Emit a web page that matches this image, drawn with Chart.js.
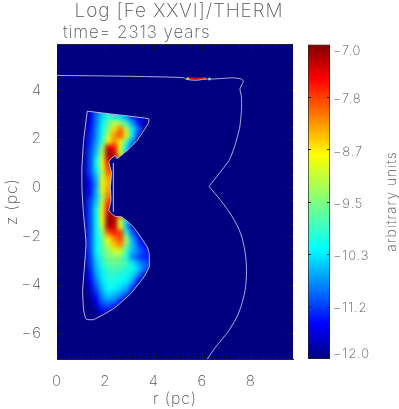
<!DOCTYPE html>
<html><head><meta charset="utf-8">
<script src="https://cdn.jsdelivr.net/npm/chart.js@4"></script>
<style>
html,body{margin:0;padding:0;background:#fff;overflow:hidden}
canvas{position:absolute;top:0;left:0}
</style></head><body>
<div style="position:absolute;left:0;top:0;width:358px;height:409px"><canvas id="main"></canvas></div>
<div style="position:absolute;left:300px;top:0;width:99px;height:409px"><canvas id="bar"></canvas></div>
<script>
const titleText = 'Log [Fe XXVI]/THERM';
const subtitleText = 'time= 2313 years';
const xTitle = 'r (pc)';
const yTitle = 'z (pc)';
const barTitle = 'arbitrary units';
const barLabels = ['−7.0','−7.8','−8.7','−9.5','−10.3','−11.2','−12.0'];
const barLabelAnchors = [-7.107,-7.865,-8.715,-9.53,-10.36,-11.19,-11.92];
const barTickMarks = [-7.833,-8.667,-9.5,-10.333,-11.167];

const rCenters = [1.125,1.375,1.625,1.875,2.125,2.375,2.625,2.875,3.125,3.375,3.625,3.875];
const zCenters = [3.125,2.875,2.625,2.375,2.125,1.875,1.625,1.375,1.125,0.875,0.625,0.375,0.125,-0.125,-0.375,-0.625,-0.875,-1.125,-1.375,-1.625,-1.875,-2.125,-2.375,-2.625,-2.875,-3.125,-3.375,-3.625,-3.875,-4.125,-4.375,-4.625,-4.875,-5.125,-5.375];
const logValues = [
[-12,-11.7,-11,-10.5,-10.2,-10.4,-10.7,-11.1,-11.5,-11.8,-12,-12],
[-12,-11.6,-10.9,-10.4,-9.9,-10,-10.3,-10.7,-11.2,-11.5,-11.8,-12],
[-12,-11.5,-10.9,-10.3,-9.7,-9.1,-9.3,-9.9,-10.7,-11.3,-11.8,-12],
[-12,-11.4,-10.8,-10.2,-9.4,-8.6,-8.1,-9.1,-10.3,-11,-12,-12],
[-12,-11.3,-10.8,-10.1,-9.1,-8.3,-7.9,-8.7,-10.3,-11.3,-12,-12],
[-11.9,-11.3,-10.7,-10,-8.7,-8.2,-8.7,-9.9,-10.8,-12,-12,-12],
[-11.9,-11.2,-10.6,-9.4,-7.4,-7.6,-9,-10.3,-11.3,-12,-12,-12],
[-11.9,-11.1,-10.5,-9.1,-7.1,-7.3,-9,-10.6,-12,-12,-12,-12],
[-11.8,-11.1,-10.3,-8.9,-7.4,-7.4,-8,-12,-12,-12,-12,-12],
[-11.8,-11.1,-10.3,-8.9,-7.8,-7.8,-12,-12,-12,-12,-12,-12],
[-11.8,-11.1,-10.4,-9.2,-8,-8,-12,-12,-12,-12,-12,-12],
[-11.9,-11.3,-10.6,-9,-8.3,-8.3,-12,-12,-12,-12,-12,-12],
[-11.9,-11.4,-10.7,-8.9,-8.4,-8.4,-12,-12,-12,-12,-12,-12],
[-11.9,-11.4,-10.6,-8.9,-8.3,-8.3,-12,-12,-12,-12,-12,-12],
[-11.9,-11.3,-10.6,-9.2,-8.1,-8.1,-12,-12,-12,-12,-12,-12],
[-11.8,-11.1,-10.5,-9.1,-7.8,-7.8,-12,-12,-12,-12,-12,-12],
[-11.8,-11.1,-10.3,-8.7,-7.5,-7.5,-12,-12,-12,-12,-12,-12],
[-11.8,-11.1,-10.3,-8.7,-7.2,-7.3,-8,-12,-12,-12,-12,-12],
[-11.8,-11.1,-10.3,-8.8,-7.05,-7.2,-9,-10.5,-12,-12,-12,-12],
[-11.8,-11.1,-10.3,-9.1,-7.3,-7.3,-8.9,-10.5,-11.6,-12,-12,-12],
[-11.9,-11.1,-10.3,-9.4,-8,-7.7,-7.8,-10,-11,-11.6,-12,-12],
[-11.9,-11.1,-10.3,-9.7,-8.7,-8.2,-7.9,-9.3,-10.6,-11.3,-11.6,-12],
[-11.9,-11.1,-10.3,-9.7,-9.1,-8.5,-8.2,-9.5,-10.5,-11.1,-11.4,-11.7],
[-11.9,-11.1,-10.3,-9.8,-9.4,-9,-9,-9.9,-10.6,-10.9,-11.2,-11.4],
[-11.9,-11.2,-10.4,-9.9,-9.5,-9.4,-9.5,-10,-10.8,-11.1,-11.3,-11.3],
[-12,-11.2,-10.5,-10,-9.7,-9.6,-9.7,-9.9,-10.3,-10.7,-11,-11.1],
[-12,-11.3,-10.6,-10.2,-9.9,-9.8,-9.9,-10,-10.2,-10.5,-11,-11.2],
[-12,-11.4,-10.7,-10.3,-10,-10,-10.1,-10.2,-10.4,-10.9,-11.7,-12],
[-12,-11.5,-10.9,-10.4,-10.1,-10.1,-10.2,-10.3,-10.7,-11.5,-12,-12],
[-12,-11.7,-11.1,-10.5,-10.2,-10.2,-10.4,-10.6,-11.2,-12,-12,-12],
[-12,-11.8,-11.3,-10.7,-10.4,-10.5,-10.7,-11,-11.8,-12,-12,-12],
[-12,-12,-11.5,-10.9,-10.7,-10.8,-11.2,-11.7,-12,-12,-12,-12],
[-12,-12,-11.7,-11.2,-11.1,-11.3,-11.7,-12,-12,-12,-12,-12],
[-12,-12,-11.9,-11.6,-11.6,-11.9,-12,-12,-12,-12,-12,-12],
[-12,-12,-12,-11.9,-11.9,-12,-12,-12,-12,-12,-12,-12]
];
const shellR = [5.4,5.5,5.6,5.7,5.8,5.9,6.0,6.1,6.3];
const shellZ = [4.47,4.47,4.46,4.46,4.46,4.46,4.46,4.46,4.45];
const shellLog = [-8.7,-7.7,-7.5,-7.4,-7.4,-7.6,-7.5,-7.8,-9.6];

const outerUpper = [[0,4.60],[2.6,4.57],[4.7,4.53],[5.25,4.50],[5.3,4.46],[5.45,4.42],[5.7,4.40],[5.95,4.42],[6.06,4.45],[6.4,4.45],[7.26,4.50],[7.59,4.46],[7.70,4.37],[7.56,4.05],[7.62,3.71],[7.62,3.16],[7.55,2.48],[7.35,1.72],[7.11,1.11],[6.69,0.56],[6.28,0.04]];
const outerLower = [[6.28,0.04],[6.76,-0.53],[7.25,-1.22],[7.59,-1.90],[7.77,-2.66],[7.83,-3.41],[7.77,-4.23],[7.52,-5.12],[7.11,-5.87],[6.55,-6.56],[6.21,-7.05]];
const innerContour = [[1.25,3.13],[3.79,2.82],[3.77,2.62],[3.31,1.93],[2.90,1.52],[2.48,1.18],[2.41,1.31],[2.25,1.19],[2.14,1.04],[2.25,0.62],[2.21,0],[2.23,-0.53],[2.14,-0.94],[2.29,-1.11],[2.41,-1.19],[2.69,-1.22],[3.16,-1.63],[3.73,-2.45],[3.81,-2.72],[3.81,-3.27],[3.59,-3.68],[3.04,-4.37],[2.34,-4.98],[1.52,-5.43],[1.21,-5.42],[1.10,-5.05],[1.06,-4.23],[1.20,-2.3],[1.08,-0.94],[1.03,0],[1.03,0.83],[1.10,1.93],[1.25,3.13]];
const slitLine = [[2.33,1.0],[2.33,-1.0]];

const jetStops = [[0,[0,0,128]],[0.11,[0,0,255]],[0.35,[0,255,255]],[0.5,[127,255,127]],[0.65,[255,255,0]],[0.89,[255,0,0]],[1,[128,0,0]]];
function jet(v){
  const t=Math.max(0,Math.min(1,(v+12)/5));
  for(let i=1;i<jetStops.length;i++){
    const [a,ca]=jetStops[i-1],[b,cb]=jetStops[i];
    if(t<=b){const f=(t-a)/(b-a);return 'rgb('+ca.map((c,k)=>Math.round(c+(cb[k]-c)*f)).join(',')+')';}
  }
  return 'rgb(128,0,0)';
}
const heatPts=[],heatCol=[];
zCenters.forEach((z,i)=>rCenters.forEach((r,j)=>{
  const v=logValues[i][j];
  if(v>-12){heatPts.push({x:r,y:z});heatCol.push(jet(v));}
}));
const toXY=a=>a.map(p=>({x:p[0],y:p[1]}));
const inkColor='#555';
const fontFam='Inter, "Open Sans", sans-serif';
const spacing='0.9px';

const fieldPlugin={
  id:'field',
  beforeDraw(c){c.ctx.letterSpacing=spacing;},
  beforeDatasetsDraw(c){
    const a=c.chartArea,g=c.ctx;
    g.save();g.fillStyle='rgb(0,0,128)';g.fillRect(a.left,a.top,a.width,a.height);g.restore();
  },
  afterDatasetDraw(c,args){
    if(args.index!==0)return;
    const a=c.chartArea,g=c.ctx,xs=c.scales.x,ys=c.scales.y;
    g.save();
    g.beginPath();g.rect(a.left,a.top,a.width,a.height);g.clip();
    g.filter='blur(2px)';
    g.drawImage(g.canvas,0,0,g.canvas.width,g.canvas.height,0,0,c.width,c.height);
    g.filter='none';
    g.beginPath();g.rect(a.left,a.top,a.width,a.height);
    innerContour.forEach((p,i)=>{const X=xs.getPixelForValue(p[0]),Y=ys.getPixelForValue(p[1]);i?g.lineTo(X,Y):g.moveTo(X,Y);});
    g.closePath();
    g.fillStyle='rgb(0,0,128)';g.fill('evenodd');
    g.restore();
  },
  afterDraw(c){
    const a=c.chartArea,g=c.ctx,xs=c.scales.x,ys=c.scales.y;
    g.save();
    g.strokeStyle='#1a1a2a';g.lineWidth=1;
    g.beginPath();
    const isMajor=v=>Math.abs(v/2-Math.round(v/2))<1e-6;
    xs.ticks.forEach(t=>{const X=Math.round(xs.getPixelForValue(t.value))+.5,l=isMajor(t.value)?6:3;
      g.moveTo(X,a.bottom);g.lineTo(X,a.bottom-l);g.moveTo(X,a.top);g.lineTo(X,a.top+l);});
    ys.ticks.forEach(t=>{const Y=Math.round(ys.getPixelForValue(t.value))+.5,l=isMajor(t.value)?6:3;
      g.moveTo(a.left,Y);g.lineTo(a.left+l,Y);g.moveTo(a.right,Y);g.lineTo(a.right-l,Y);});
    g.stroke();
    g.beginPath();g.moveTo(a.left,a.top);g.lineTo(a.right,a.top);g.strokeStyle='#223';g.stroke();
    g.fillStyle=inkColor;g.font='200 17px '+fontFam;g.textAlign='left';g.textBaseline='middle';
    g.fillText(subtitleText,63,33);
    g.restore();
  }
};

new Chart(document.getElementById('main'),{
  type:'scatter',
  data:{datasets:[
    {label:'Log [Fe XXVI]/THERM',data:heatPts,order:5,pointStyle:'rect',pointRadius:4.6,pointBorderWidth:0,pointBackgroundColor:heatCol,showLine:false},
    {label:'shell',data:shellR.map((r,i)=>({x:r,y:shellZ[i]})),order:3,pointStyle:'rect',pointRadius:1.7,pointBorderWidth:0,pointBackgroundColor:shellLog.map(jet),showLine:false},
    {label:'outer upper',data:toXY(outerUpper),order:1,showLine:true,pointRadius:0,borderWidth:1,borderColor:'rgba(190,190,230,0.9)',tension:0.2},
    {label:'outer lower',data:toXY(outerLower),order:1,showLine:true,pointRadius:0,borderWidth:1,borderColor:'rgba(190,190,230,0.9)',tension:0.3},
    {label:'inner',data:toXY(innerContour),order:1,showLine:true,pointRadius:0,borderWidth:1,borderColor:'rgba(205,205,235,0.9)',tension:0.12},
    {label:'slit',data:toXY(slitLine),order:1,showLine:true,pointRadius:0,borderWidth:1,borderColor:'rgba(170,170,220,0.8)'}
  ]},
  options:{
    responsive:true,maintainAspectRatio:false,animation:false,
    plugins:{
      legend:{display:false},tooltip:{enabled:false},
      title:{display:true,text:titleText,color:inkColor,align:'center',font:{family:fontFam,size:19,weight:'200'},padding:{top:0,bottom:21.7}}
    },
    scales:{
      x:{type:'linear',min:0,max:9.75,
        afterBuildTicks(s){s.ticks=s.ticks.filter(t=>Math.abs(t.value*2-Math.round(t.value*2))<1e-6);},
        afterFit(s){s.height=50;},
        ticks:{stepSize:0.5,autoSkip:false,maxRotation:0,color:inkColor,padding:5,font:{family:fontFam,size:15,weight:'200'},
          callback:v=>(Math.abs(v/2-Math.round(v/2))<1e-6?String(v):'')},
        grid:{display:false},border:{display:true,color:'#223',width:1},
        title:{display:true,text:xTitle,color:inkColor,padding:0,font:{family:fontFam,size:16,weight:'200'}}},
      y:{type:'linear',min:-7.05,max:5.87,
        afterBuildTicks(s){s.ticks=s.ticks.filter(t=>Math.abs(t.value*2-Math.round(t.value*2))<1e-6);},
        afterFit(s){s.width=57;},
        ticks:{stepSize:0.5,autoSkip:false,color:inkColor,padding:7,font:{family:fontFam,size:15,weight:'200'},
          callback:v=>(Math.abs(v/2-Math.round(v/2))<1e-6?String(v).replace('-','−'):'')},
        grid:{display:false},border:{display:true,color:'#223',width:1},
        title:{display:true,text:yTitle,color:inkColor,padding:{top:3,bottom:0},font:{family:fontFam,size:16,weight:'200'}}},
      yPad:{type:'linear',position:'right',min:0,max:1,afterFit(s){s.width=65;},
        ticks:{display:false},grid:{display:false},border:{display:false}}
    }
  },
  plugins:[fieldPlugin]
});

const barPlugin={
  id:'barDecor',
  beforeDraw(c){c.ctx.letterSpacing=spacing;},
  afterDraw(c){
    const a=c.chartArea,g=c.ctx,ys=c.scales.y;
    g.save();
    g.strokeStyle='#222';g.lineWidth=1;g.beginPath();
    barTickMarks.forEach(v=>{const Y=Math.round(ys.getPixelForValue(v))+.5;
      g.moveTo(a.left,Y);g.lineTo(a.left+3,Y);g.moveTo(a.right,Y);g.lineTo(a.right-3,Y);});
    g.stroke();
    g.translate(92,201.5);g.rotate(-Math.PI/2);
    g.fillStyle=inkColor;g.font='200 14px '+fontFam;g.textAlign='center';g.textBaseline='middle';
    g.fillText(barTitle,0,0);
    g.restore();
  }
};
new Chart(document.getElementById('bar'),{
  type:'bar',
  data:{labels:['scale'],datasets:[{
    data:[[-12,-7]],
    barPercentage:1,categoryPercentage:1,borderWidth:1,borderColor:'#222',borderSkipped:false,
    backgroundColor(ctx){
      const ca=ctx.chart.chartArea;
      if(!ca)return '#000';
      const g=ctx.chart.ctx.createLinearGradient(0,ca.bottom,0,ca.top);
      jetStops.forEach(s=>g.addColorStop(s[0],'rgb('+s[1].join(',')+')'));
      return g;
    }
  }]},
  options:{
    responsive:true,maintainAspectRatio:false,animation:false,
    layout:{padding:{left:8,right:0,top:44.5,bottom:50}},
    plugins:{legend:{display:false},tooltip:{enabled:false}},
    scales:{
      x:{display:false},
      y:{type:'linear',position:'right',min:-12,max:-7,
        afterBuildTicks(s){s.ticks=barLabelAnchors.map(v=>({value:v}));},
        afterFit(s){s.width=69;},
        ticks:{autoSkip:false,color:inkColor,padding:3,font:{family:fontFam,size:13,weight:'200'},
          callback(v,i){return barLabels[i];}},
        grid:{display:false,drawTicks:false},border:{display:false}
      }
    }
  },
  plugins:[barPlugin]
});
</script>
</body></html>
